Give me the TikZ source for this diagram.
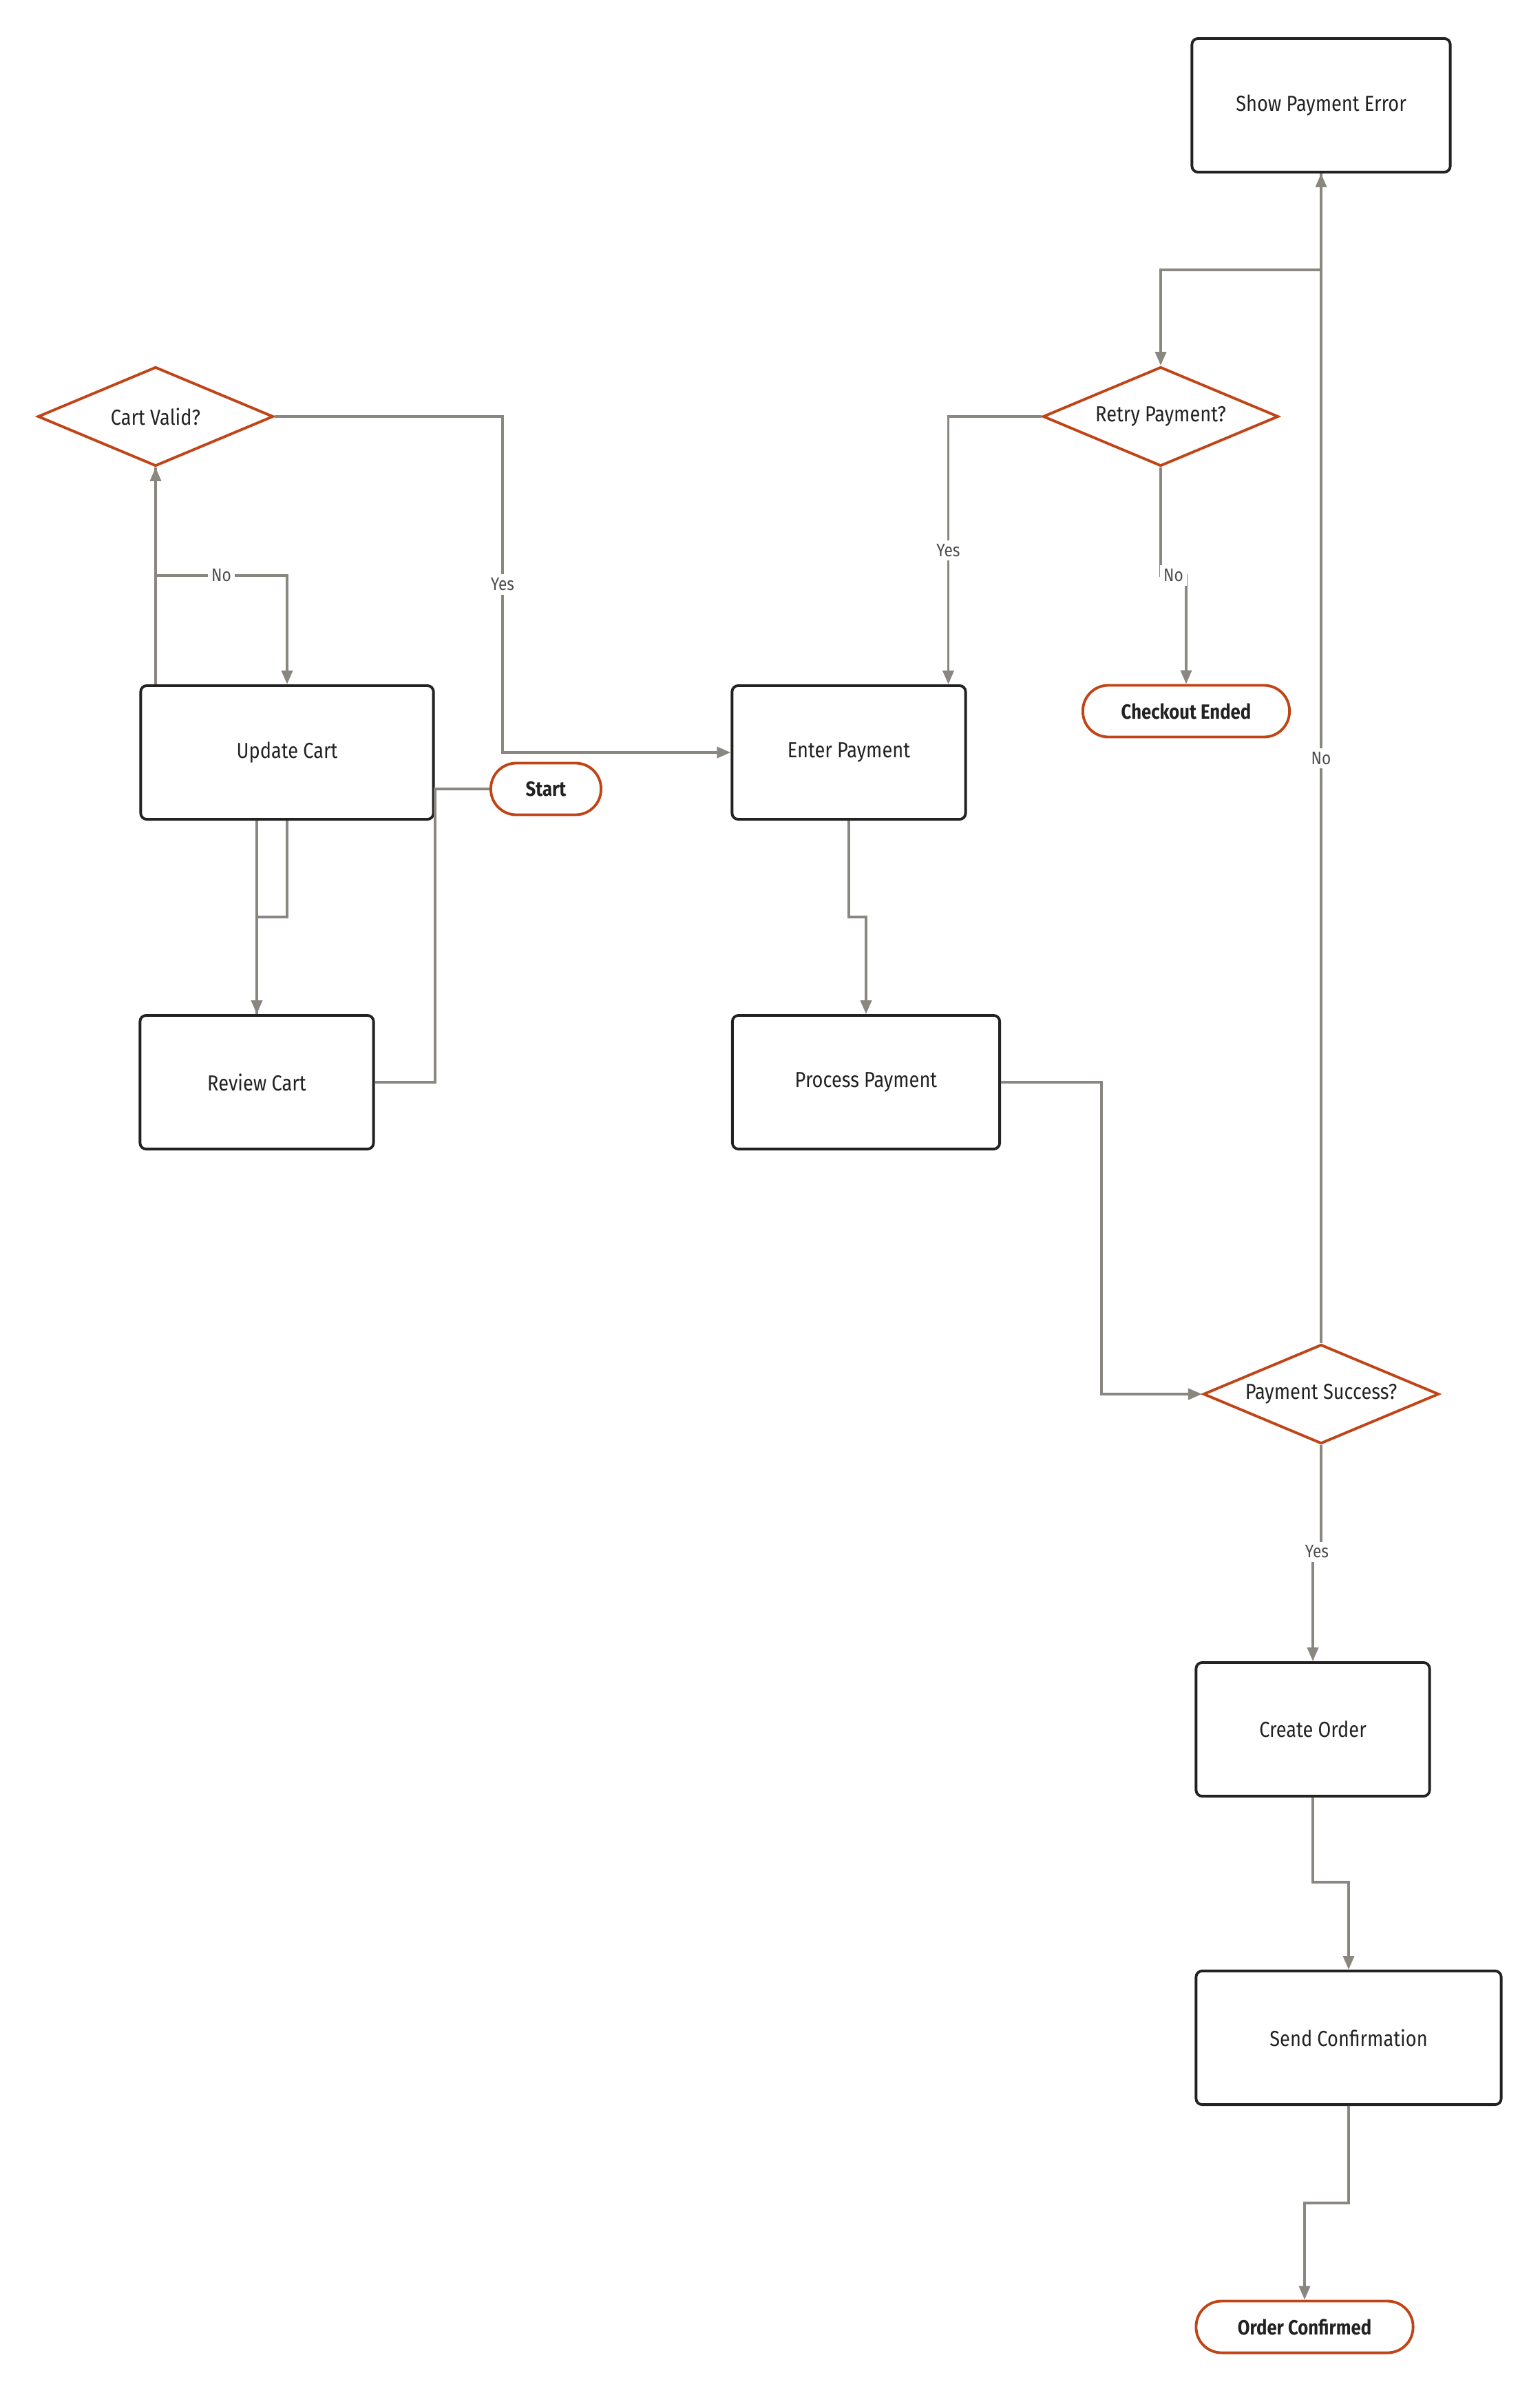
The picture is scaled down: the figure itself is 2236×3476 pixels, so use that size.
\documentclass[tikz,border=0pt]{standalone}
\usepackage{fontspec}
\setmainfont{Fira Sans}[FakeStretch=0.86]
\usetikzlibrary{shapes.geometric,arrows.meta}
\definecolor{flowred}{RGB}{192,68,22}
\definecolor{flowgray}{RGB}{138,135,128}
\definecolor{flowink}{RGB}{34,34,34}
\tikzset{
	boxnode/.style={rectangle, draw=flowink, line width=1.1pt, rounded corners=2.5pt, text=flowink, font=\fontsize{9}{11}\selectfont, minimum height=1.94cm},
	decnode/.style={diamond, draw=flowred, line width=1.1pt, fill=white, text=flowink, font=\fontsize{9}{11}\selectfont, aspect=2.4, inner sep=0pt, minimum width=3.42cm, minimum height=1.44cm},
	pillnode/.style={rectangle, draw=flowred, line width=1.1pt, rounded corners=0.37cm, text=flowink, font=\fontsize{8.5}{10}\selectfont\bfseries, minimum height=0.75cm}
}
\tikzset{
	flow/.style={draw=flowgray, line width=1.1pt},
	flowarrow/.style={flow, -{Triangle[length=0.2cm,width=0.16cm]}},
	lbl/.style={fill=white, text=black!70, font=\fontsize{7.5}{8}\selectfont, inner sep=1.5pt}
}

\begin{document}
\begin{tikzpicture}[x=0.01cm, y=-0.01cm]
	\useasboundingbox (0,0) rectangle (2236,3476);

	\node[boxnode, minimum width=3.75cm] at (1919,153) (spe) {Show Payment Error};
	\node[decnode] at (226,605) (cv) {Cart Valid?};
	\node[decnode] at (1686,605) (rp) {Retry Payment?};
	\node[boxnode, minimum width=4.25cm] at (417,1093) (uc) {Update Cart};
	\node[pillnode, minimum width=1.6cm] at (793,1146) (st) {Start};
	\node[boxnode, minimum width=3.39cm] at (1233,1093) (ep) {Enter Payment};
	\node[pillnode, minimum width=3cm] at (1723,1033) (ce) {Checkout Ended};
	\node[boxnode, minimum width=3.39cm] at (373,1572) (rc) {Review Cart};
	\node[boxnode, minimum width=3.88cm] at (1258,1572) (pp) {Process Payment};
	\node[decnode] at (1919,2025) (ps) {Payment Success?};
	\node[boxnode, minimum width=3.39cm] at (1907,2512) (co) {Create Order};
	\node[boxnode, minimum width=4.43cm] at (1959,2960) (sc) {Send Confirmation};
	\node[pillnode, minimum width=3.15cm] at (1895,3380) (oc) {Order Confirmed};

	% bends of the connectors
	\coordinate (cvno) at (417,836);
	\coordinate (cvyes) at (730,605);
	\coordinate (ucbend) at (417,1332);
	\coordinate (epbend) at (1233,1332);
	\coordinate (ppbend) at (1600,1572);
	\coordinate (spebend) at (1919,392);
	\coordinate (rpno) at (1723,836);
	\coordinate (psyes) at (1907,2254);
	\coordinate (cobend) at (1907,2734);
	\coordinate (scbend) at (1959,3200);

	\draw[flowarrow] (cv.east) -- (cvyes) |- node[lbl, pos=0.25]{Yes} (ep.west);
	\draw[flowarrow] (uc.north -| cv.south) -- (cv.south);
	\draw[flowarrow] (cv.south) |- node[lbl, pos=0.75]{No} (cvno) -- (uc.north);
	\draw[flowarrow] (uc.south) -- (ucbend) -| (rc.north);
	\draw[flow] (rc.north) -- (rc.north |- uc.south);
	\draw[flow] (st.west) -- (st.west -| uc.east) |- (rc.east);
	\draw[flowarrow] (ep.south) -- (epbend) -| (pp.north);
	\draw[flowarrow] (pp.east) -- (ppbend) |- (ps.west);
	\draw[flowarrow] (ps.north) -- node[lbl, pos=0.5]{No} (spe.south);
	\draw[flowarrow] (spe.south) -- (spebend) -| (rp.north);
	\draw[flowarrow] (rp.west) -| node[lbl, pos=0.75]{Yes} ([xshift=-0.27cm]ep.north east);
	\draw[flowarrow] (rp.south) |- node[lbl, pos=0.75]{No} (rpno) -- (ce.north);
	\draw[flowarrow] (ps.south) |- node[lbl, pos=0.75]{Yes} (psyes) -- (co.north);
	\draw[flowarrow] (co.south) -- (cobend) -| (sc.north);
	\draw[flowarrow] (sc.south) -- (scbend) -| (oc.north);
\end{tikzpicture}
\end{document}
